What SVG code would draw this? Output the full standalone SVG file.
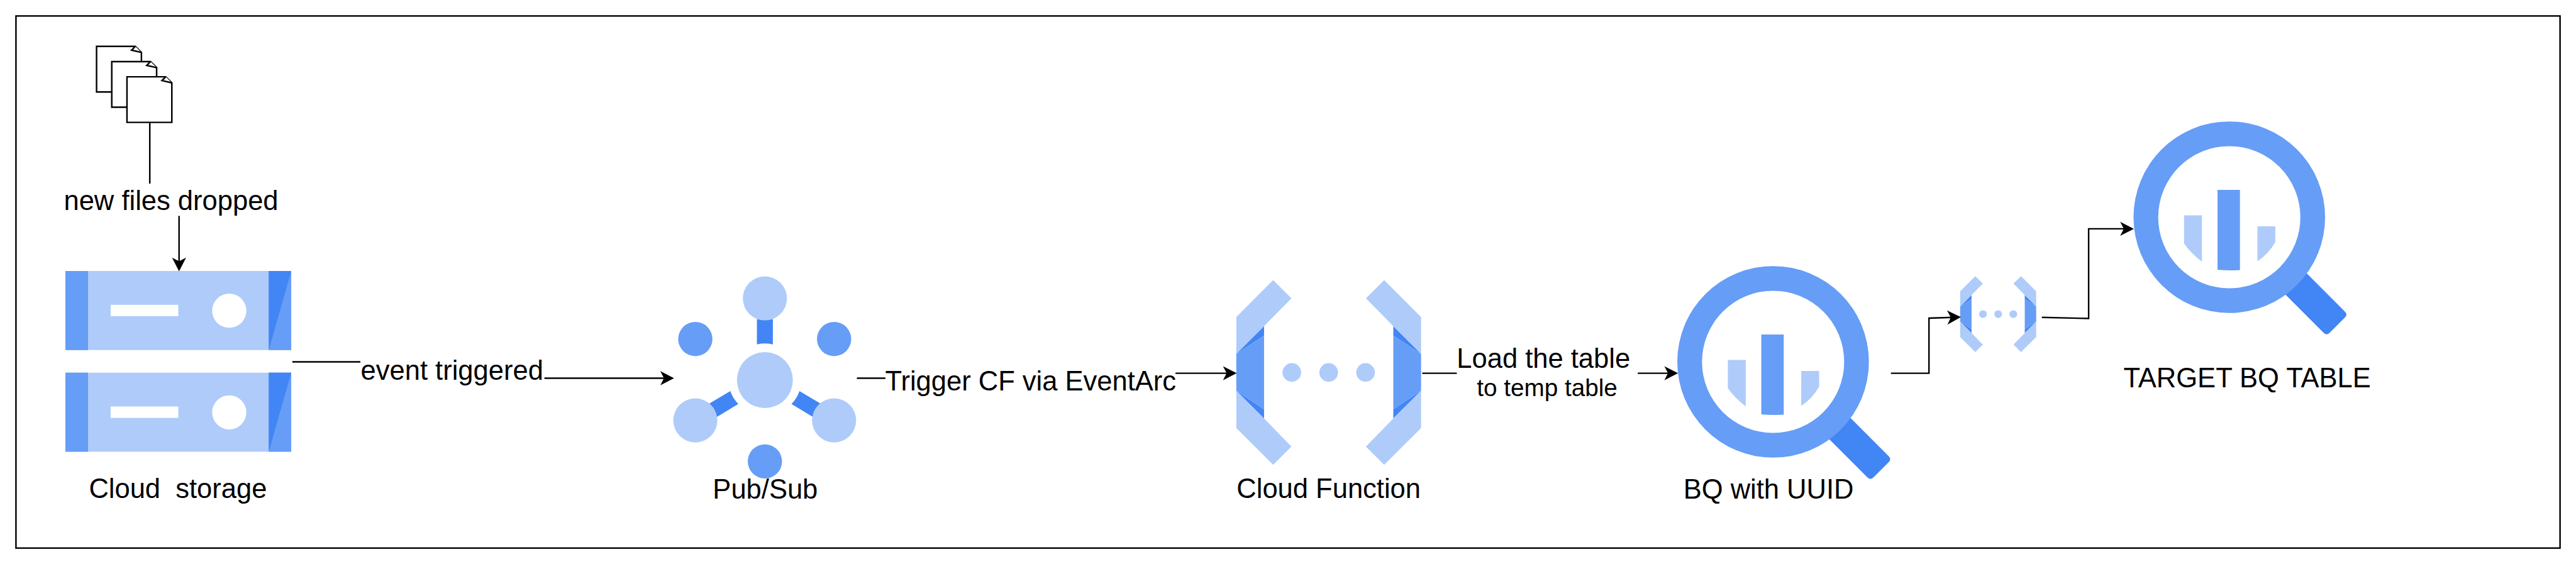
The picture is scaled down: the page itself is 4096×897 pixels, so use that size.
<svg xmlns="http://www.w3.org/2000/svg" xmlns:xlink="http://www.w3.org/1999/xlink" width="4096" height="897" viewBox="0 0 4096 897">
  <style>
    text { font-family: "Liberation Sans", Arial, sans-serif; font-size: 72px; fill: #000; text-anchor: middle; white-space: pre; }
    .small { font-size: 64px; }
    .l { fill: #aecbfa; }
    .m { fill: #669df6; }
    .d { fill: #4285f4; }
    .w { fill: #fff; }
    .doc { fill: #fff; stroke: #000; stroke-width: 4; }
    .edge { fill: none; stroke: #000; stroke-width: 4; }
    .arrow { marker-end: url(#head); }
  </style>
  <defs>
    <marker id="head" markerUnits="userSpaceOnUse" markerWidth="36" markerHeight="37" refX="16" refY="18.5" orient="auto" viewBox="0 0 36 37" overflow="visible">
      <path d="M36,18.5 L0,0 L9.5,18.5 L0,37 Z" fill="#000"/>
    </marker>
    <g id="file">
      <path class="doc" d="M0,0 H102 L118,16 V120 H0 Z"/>
      <path class="doc" d="M102,0 L92,10 L118,16"/>
    </g>
    <g id="disk">
      <rect class="l" x="172" y="0" width="594" height="208"/>
      <rect class="m" x="172" y="0" width="59.5" height="208"/>
      <rect class="m" x="707" y="0" width="59" height="208"/>
      <path class="d" d="M707,0 H766 L707,208 Z"/>
      <rect class="w" x="291" y="89" width="178" height="30"/>
      <circle class="w" cx="603" cy="104.5" r="45"/>
    </g>
    <g id="fn">
      <path class="d" d="M0,194 L73,121 V146 Z M0,291 L73,364 V340 Z M486,194 L413,121 V146 Z M486,291 L413,364 V340 Z"/>
      <path class="m" d="M0,194 L73,146 V340 L0,291 Z M486,194 L413,146 V340 L486,291 Z"/>
      <path class="l" d="M97,0 L145,48 L73,121 L0,194 V97 Z M0,291 L73,364 L145,438 L97,486 L0,389 Z M389,0 L341,48 L413,121 L486,194 V97 Z M486,291 L413,364 L341,438 L389,486 L486,389 Z"/>
      <circle class="l" cx="146" cy="243" r="24.5"/>
      <circle class="l" cx="243" cy="243" r="24.5"/>
      <circle class="l" cx="340" cy="243" r="24.5"/>
    </g>
    <g id="bq">
      <path class="d" d="M4840,1072 L4968,1200 Q4976,1208 4968,1216 L4928,1256 Q4920,1264 4912,1256 L4784,1128 Z"/>
      <path class="m" fill-rule="evenodd" d="M4412,952 A252,252 0 1 1 4916,952 A252,252 0 1 1 4412,952 Z M4477,952 A187,187 0 1 0 4851,952 A187,187 0 1 0 4477,952 Z"/>
      <path class="m" d="M4633,880 H4692 V1091 Q4662,1093 4633,1090 Z"/>
      <path class="l" d="M4545,947 H4592 V1069 Q4562,1046 4545,1021 Z"/>
      <path class="l" d="M4738,976 H4785 V1017 Q4768,1048 4738,1068 Z"/>
    </g>
  </defs>
  <rect width="4096" height="897" fill="#fff"/>
  <g transform="scale(0.60449)">
    <rect id="frame" x="42" y="42" width="6692" height="1400" fill="none" stroke="#000" stroke-width="4"/>

    <g id="node-files">
      <use href="#file" x="254" y="122"/>
      <use href="#file" x="294" y="162"/>
      <use href="#file" x="334" y="202"/>
    </g>

    <g id="node-storage">
      <use href="#disk" y="713"/>
      <use href="#disk" y="980.5"/>
      <text x="468" y="1311">Cloud  storage</text>
    </g>

    <g id="node-pubsub">
      <path class="d" d="M1991,840 H2033 V906 A95,95 0 0 0 1991,906 Z"/>
      <path class="d" d="M1921,1029 A95,95 0 0 0 1942,1063 L1871,1106 L1850,1071 Z"/>
      <path class="d" d="M2103,1029 A95,95 0 0 1 2082,1063 L2153,1106 L2174,1071 Z"/>
      <circle class="l" cx="2012" cy="785" r="58"/>
      <circle class="l" cx="2012" cy="1000" r="73.5"/>
      <circle class="l" cx="1829" cy="1106" r="58"/>
      <circle class="l" cx="2194" cy="1106" r="58"/>
      <circle class="m" cx="1829" cy="892" r="45"/>
      <circle class="m" cx="2194" cy="892" r="45"/>
      <circle class="m" cx="2012" cy="1214" r="45"/>
      <text x="2013" y="1312">Pub/Sub</text>
    </g>

    <g id="node-cloud-function">
      <use href="#fn" x="3252" y="737"/>
      <text x="3495" y="1311">Cloud Function</text>
    </g>

    <g id="node-bq-uuid">
      <use href="#bq"/>
      <text x="4652" y="1312">BQ with UUID</text>
    </g>

    <g id="node-small-function">
      <use href="#fn" transform="translate(5156 726.5) scale(0.4115)"/>
    </g>

    <g id="node-target-bq">
      <use href="#bq" x="1200" y="-380.5"/>
      <text x="5911" y="1019">TARGET BQ TABLE</text>
    </g>

    <g id="connectors">
      <path class="edge" d="M394,322 V483"/>
      <path class="edge arrow" d="M471,568 V694"/>
      <text x="450" y="552">new files dropped</text>

      <path class="edge" d="M769,952 H948"/>
      <path class="edge arrow" d="M1432,995 H1753"/>
      <text x="1189" y="999">event triggered</text>

      <path class="edge" d="M2254,995 H2329"/>
      <path class="edge arrow" d="M3092,982 H3233"/>
      <text x="2711" y="1027.7">Trigger CF via EventArc</text>

      <path class="edge" d="M3741,982 H3832"/>
      <path class="edge arrow" d="M4308,982 H4394"/>
      <text x="4060" y="967">Load the table</text>
      <text class="small" x="4069.5" y="1043">to temp table</text>

      <path class="edge arrow" d="M4974,982 H5074 V837 L5138,835"/>
      <path class="edge arrow" d="M5371,835 L5494,838 V602 H5593"/>
    </g>
  </g>
</svg>
